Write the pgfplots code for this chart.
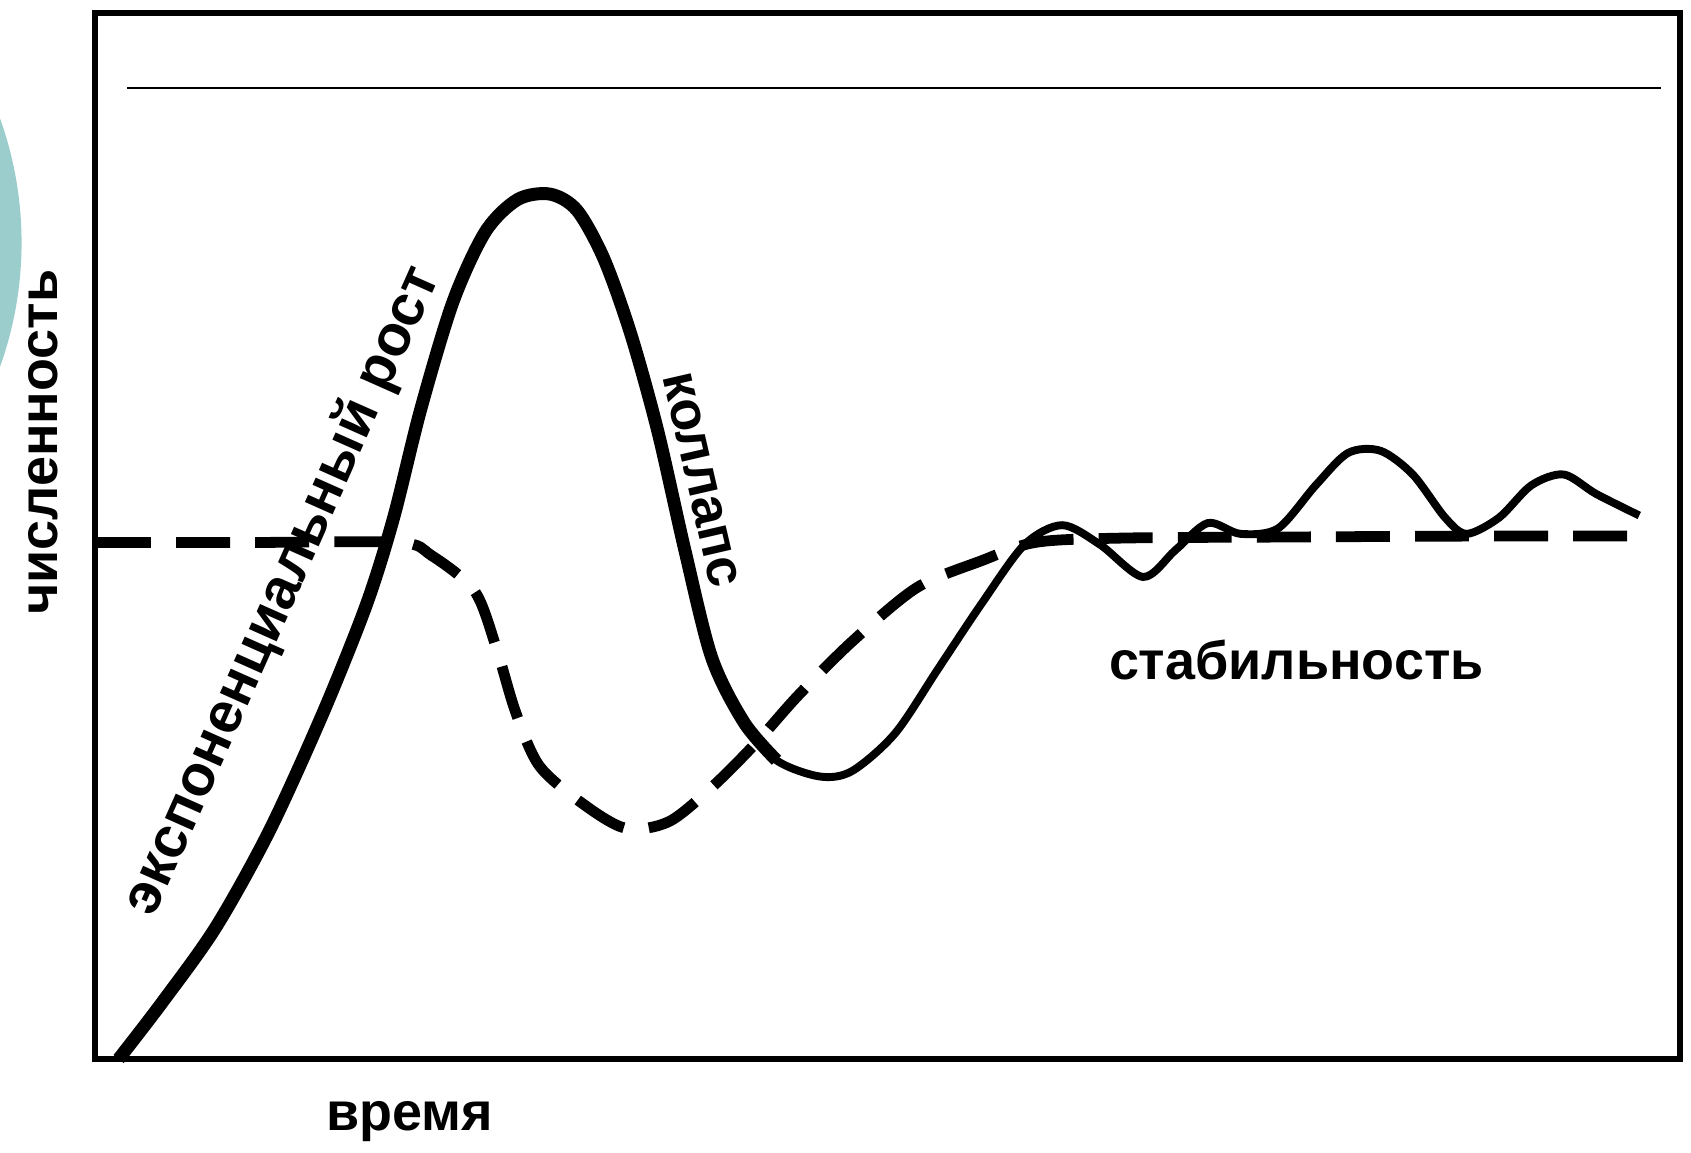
\documentclass[border=0pt]{standalone}
\usepackage{fontspec}
\setmainfont{Liberation Sans}
\usepackage{pgfplots}
\pgfplotsset{compat=1.18}
\definecolor{tealc}{RGB}{155,205,205}
\begin{document}
\begin{tikzpicture}
\begin{scope}
\clip (-26.4pt,-26.1pt) rectangle (444pt,294.6pt);
\fill[tealc] (-122.4pt,227.1pt) circle[radius=102pt];
\end{scope}
\begin{axis}[
  anchor=south west, at={(0,0)},
  x=0.3pt, y=0.3pt,
  xmin=0, xmax=1470, ymin=0, ymax=970,
  axis line style={line width=1.8pt},
  ticks=none, clip=false,
]
% thin top line
\addplot[black, line width=0.6pt] coordinates {(30,900) (1452,900)};
% dashed curve
\addplot[black, line width=3pt, smooth, dash pattern=on 15pt off 7pt] coordinates {
(2,479) (150,479) (282,479) (312,467) (352,434) (372,382) (390,322) (412,272)
(452,237) (492,214) (532,220) (572,252) (612,292) (652,337) (702,387)
(762,437) (822,462) (872,479) (950,483) (1100,484) (1300,485) (1432,485)};
% solid curve, thick part
\addplot[black, line width=3.6pt, smooth] coordinates {
(22,0) (62,52) (112,122) (162,212) (212,322) (252,422) (277,502) (302,602)
(332,702) (362,767) (392,797) (422,802) (447,787) (472,742) (497,672)
(522,582) (547,472) (572,372) (602,312) (632,277)};
\addplot[black, line width=2.2pt, smooth] coordinates {
(602,312) (632,277) (672,262) (702,267) (742,302) (782,362) (822,422) (862,477)
(897,495) (932,477) (972,447) (1002,472) (1032,497) (1062,487) (1097,492)
(1132,532) (1162,562) (1192,564) (1222,542) (1252,502) (1272,487) (1302,502)
(1332,532) (1362,542) (1392,524) (1432,504)};
% labels
\node[font=\bfseries\fontsize{16}{16}\selectfont, rotate=66] at (axis cs:174,434) {экспоненциальный рост};
\node[font=\bfseries\fontsize{15}{15}\selectfont, rotate=-77] at (axis cs:562,537) {коллапс};
\node[font=\bfseries\fontsize{15}{15}\selectfont] at (axis cs:1114,370) {стабильность};
\node[font=\bfseries\fontsize{15}{15}\selectfont, rotate=90] at (axis cs:-48,572) {численность};
\node[font=\bfseries\fontsize{15}{15}\selectfont] at (axis cs:292,-58) {время};
\end{axis}
\pgfresetboundingbox
\path[use as bounding box] (-26.4pt,-26.1pt) rectangle (444pt,294.6pt);
\end{tikzpicture}
\end{document}
